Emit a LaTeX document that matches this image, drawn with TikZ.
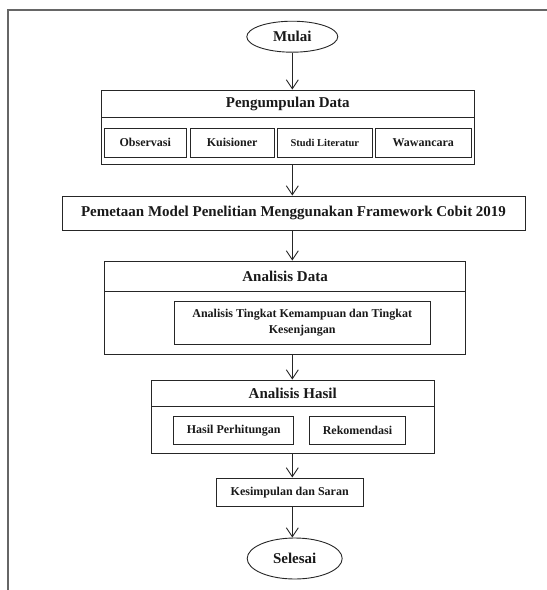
\documentclass[tikz,border=0pt]{standalone}
\usepackage{fontspec}
\setmainfont{Liberation Serif}
\usetikzlibrary{arrows.meta,shapes.geometric}
\begin{document}
\begin{tikzpicture}[x=1pt,y=-1pt,
  line width=0.9pt,
  box/.style={draw=black!85, rectangle, inner sep=0pt, font=\bfseries\fontsize{12}{14}\selectfont, align=center, text=black!90},
  oval/.style={draw=black!85, ellipse, inner sep=0pt, font=\bfseries\fontsize{15}{18}\selectfont, text=black!90},
  ttl/.style={inner sep=0pt, font=\bfseries\fontsize{15}{18}\selectfont, text=black!90},
  flow/.style={draw=black!85, -{Straight Barb[length=9pt,width=12pt,line width=0.9pt]}}
]
\useasboundingbox (0,0) rectangle (547,590);
\draw[draw=black!60, line width=1.6pt] (8,590) -- (8,10) -- (547,10);

% Mulai
\node[oval, minimum width=91, minimum height=31] (mulai) at (292.3,36.7) {Mulai};

% Pengumpulan Data
\node[box, minimum width=373, minimum height=74] (pd) at (287.8,127) {};
\node[ttl] (pdt) at (287.8,103.5) {Pengumpulan Data};
\draw[black!85] (101.3,117) -- (474.3,117);
\node[box, minimum width=81.4, minimum height=29] (obs) at (145.3,142.5) {Observasi};
\node[box, minimum width=83.6, minimum height=29] (kui) at (232.2,142.5) {Kuisioner};
\node[box, minimum width=95.5, minimum height=29, font=\bfseries\fontsize{10.5}{12}\selectfont] (stl) at (324.8,142.5) {Studi Literatur};
\node[box, minimum width=95.4, minimum height=29] (waw) at (423.3,142.5) {Wawancara};

% Pemetaan
\node[box, minimum width=463, minimum height=34, font=\bfseries\fontsize{15}{18}\selectfont] (pm) at (293.5,213) {Pemetaan Model Penelitian Menggunakan Framework Cobit 2019};

% Analisis Data
\node[box, minimum width=361, minimum height=93] (ad) at (285.1,307.5) {};
\node[ttl] (adt) at (285.1,276.3) {Analisis Data};
\draw[black!85] (104.6,291.7) -- (465.6,291.7);
\node[box, minimum width=255.6, minimum height=43, font=\bfseries\fontsize{12}{15.5}\selectfont] (atk) at (302.2,322.5) {Analisis Tingkat Kemampuan dan Tingkat\\Kesenjangan};

% Analisis Hasil
\node[box, minimum width=282.6, minimum height=73] (ah) at (292.7,416.5) {};
\node[ttl] (aht) at (292.7,393.3) {Analisis Hasil};
\draw[black!85] (151.4,406.7) -- (434,406.7);
\node[box, minimum width=120, minimum height=27.3] (hp) at (233.7,430.3) {Hasil Perhitungan};
\node[box, minimum width=95.6, minimum height=27.3] (rk) at (357.5,430.3) {Rekomendasi};

% Kesimpulan
\node[box, minimum width=147.4, minimum height=28.7] (ks) at (289.7,492.3) {Kesimpulan dan Saran};

% Selesai
\node[oval, minimum width=95, minimum height=41] (sl) at (294.7,558.5) {Selesai};

% arrows
\draw[flow] (mulai.south) -- (mulai.south |- pd.north);
\draw[flow] (mulai.south |- pd.south) -- (mulai.south |- pm.north);
\draw[flow] (mulai.south |- pm.south) -- (mulai.south |- ad.north);
\draw[flow] (mulai.south |- ad.south) -- (mulai.south |- ah.north);
\draw[flow] (mulai.south |- ah.south) -- (mulai.south |- ks.north);
\draw[flow] (mulai.south |- ks.south) -- (mulai.south |- sl.north);
\end{tikzpicture}
\end{document}
